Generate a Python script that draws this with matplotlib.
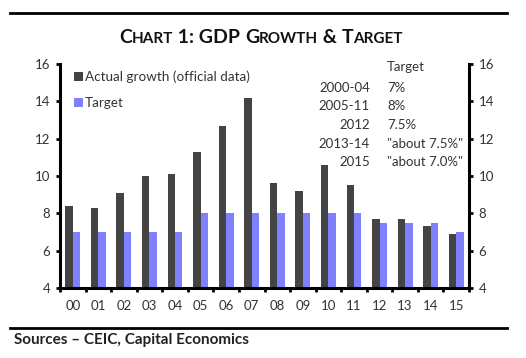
import numpy as np
import matplotlib
matplotlib.use("Agg")
import matplotlib.pyplot as plt
from matplotlib.lines import Line2D

plt.rcParams['font.family'] = ['Lato', 'DejaVu Sans']

years = ["00", "01", "02", "03", "04", "05", "06", "07",
         "08", "09", "10", "11", "12", "13", "14", "15"]
actual = [8.4, 8.3, 9.1, 10.0, 10.1, 11.3, 12.7, 14.2,
          9.6, 9.2, 10.6, 9.5, 7.7, 7.7, 7.3, 6.9]
target = [7, 7, 7, 7, 7, 8, 8, 8, 8, 8, 8, 8, 7.5, 7.5, 7.5, 7.0]

tbl_periods = ["2000-04", "2005-11", "2012", "2013-14", "2015"]
tbl_targets = ["7%", "8%", "7.5%", '"about 7.5%"', '"about 7.0%"']

dark = "#444444"
blue = "#8080ff"
txt = "#333333"

fig = plt.figure(figsize=(5.26, 3.58), dpi=100)
ax = fig.add_axes([60/526, 1 - 288/358, (469 - 60)/526, (288 - 64)/358])

x = np.arange(len(years))
w = 0.29
ax.bar(x - w/2, actual, w, color=dark, label="Actual growth (official data)")
ax.bar(x + w/2, target, w, color=blue, label="Target")

ax.set_xlim(-0.5, len(years) - 0.5)
ax.set_ylim(4, 16)
ax.set_yticks(range(4, 17, 2))
ax.set_xticks(x)
ax.set_xticklabels(years)
ax.set_xticks(np.arange(-0.5, len(years), 1), minor=True)
ax.tick_params(axis="x", which="major", length=0, pad=9, labelsize=9.5, labelcolor=txt)
ax.tick_params(axis="x", which="minor", length=3, width=2, direction="out")
ax.tick_params(axis="y", length=3, width=2, direction="out", labelsize=9.5,
               labelcolor=txt, left=True, right=True, labelright=True, pad=4)
ax.spines["top"].set_visible(False)
for side in ["left", "right", "bottom"]:
    ax.spines[side].set_linewidth(2.2)

leg = ax.legend(loc="upper left", bbox_to_anchor=(0.02, 0.995), frameon=False,
                fontsize=9.7, handlelength=0.7, handleheight=0.7, handletextpad=0.15,
                labelspacing=1.05, borderaxespad=0)
for t in leg.get_texts():
    t.set_color(txt)

# target table
fig.text(387/526, 1 - 67/358, "Target", fontsize=9.5, color=txt, va="center", ha="left")
row_y = [88, 106.5, 125, 143.5, 162]
for yy, p, tg in zip(row_y, tbl_periods, tbl_targets):
    fig.text(370/526, 1 - yy/358, p, fontsize=9.5, color=txt, va="center", ha="right")
    fig.text(387/526, 1 - yy/358, tg, fontsize=9.5, color=txt, va="center", ha="left")

# rules
fig.add_artist(Line2D([10/526, 507/526], [1 - 13/358, 1 - 13/358], color="black", lw=2))
fig.add_artist(Line2D([10/526, 507/526], [1 - 328/358, 1 - 328/358], color="black", lw=2))

# small-caps title
parts = [("C", 14), ("HART", 11), (" 1: GDP ", 14), ("G", 14), ("ROWTH", 11),
         (" & ", 14), ("T", 14), ("ARGET", 11)]
fig.canvas.draw()
renderer = fig.canvas.get_renderer()
widths = []
for s, fs in parts:
    t = fig.text(0, 0, s, fontsize=fs, fontweight="bold")
    widths.append(t.get_window_extent(renderer).width)
    t.remove()
total = sum(widths)
cx = 261
xpos = cx - total/2
for (s, fs), wd in zip(parts, widths):
    fig.text(xpos/526, 1 - 43/358, s, fontsize=fs, fontweight="bold", color="#111111",
             va="baseline", ha="left")
    xpos += wd

fig.text(14/526, 1 - 340/358, "Sources \u2013 CEIC, Capital Economics", fontsize=11,
         fontweight="bold", color="#222222", va="center", ha="left")

fig.savefig("out.png", dpi=100)
